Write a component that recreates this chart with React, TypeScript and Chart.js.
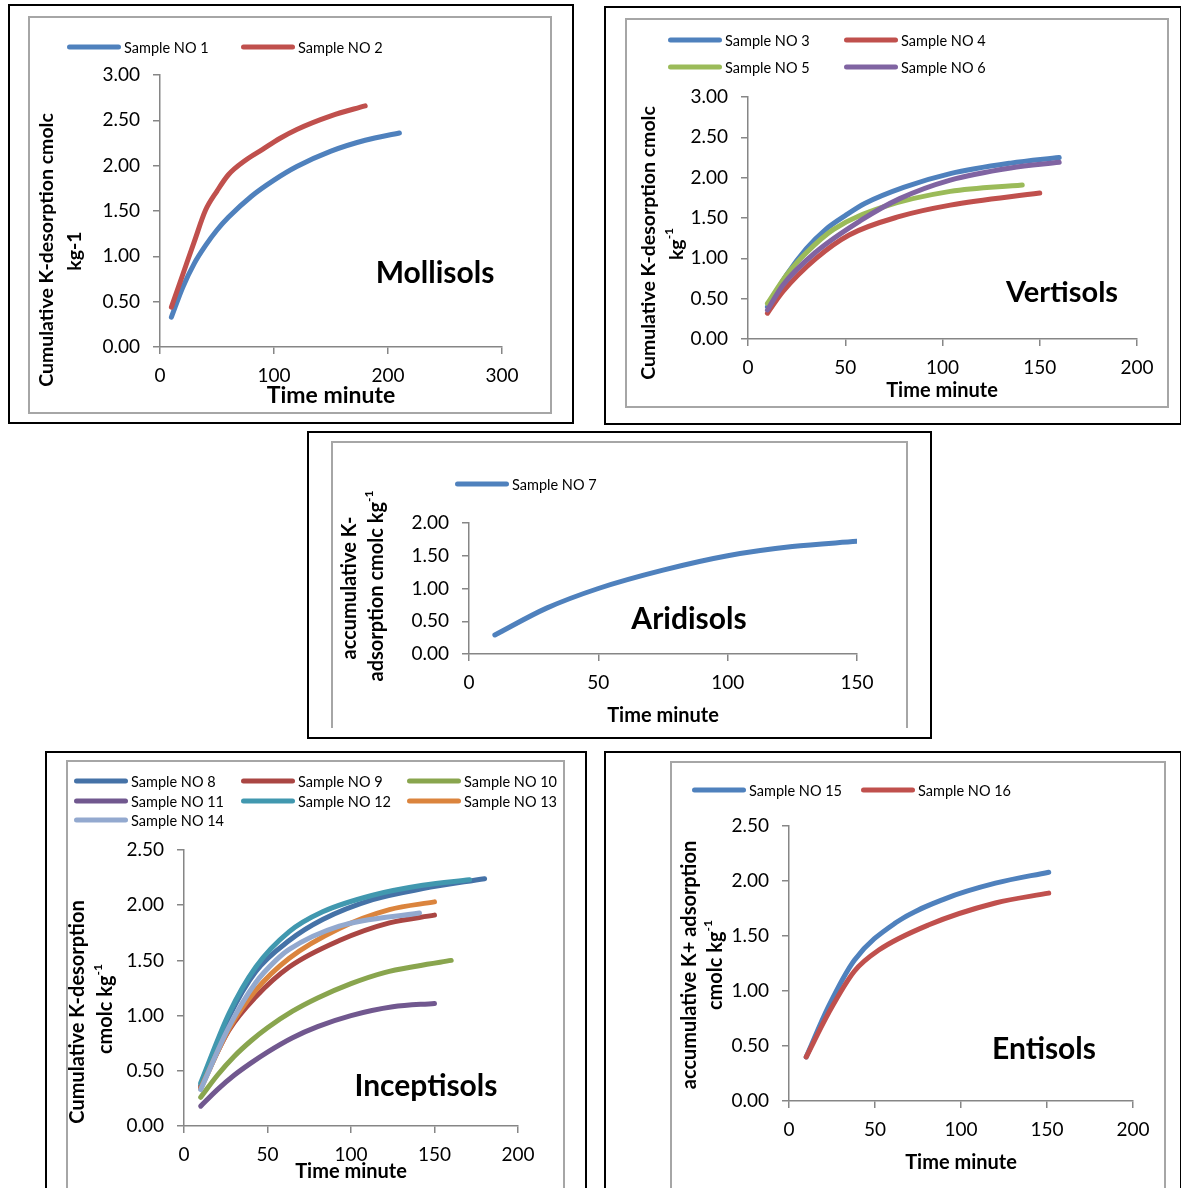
import React, { useEffect, useRef } from "react";
import { Chart, registerables } from "chart.js";

Chart.register(...registerables);

const PAGE_W = 1181;
const PAGE_H = 1188;
const FONT = "Lato, 'Open Sans', 'DejaVu Sans', sans-serif";

// ---------- Mollisols ----------
const molTimes1 = [10, 20, 30, 40, 50, 60, 80, 100, 120, 150, 180, 210];
const molSample1 = [0.33, 0.66, 0.92, 1.12, 1.29, 1.43, 1.66, 1.84, 1.99, 2.16, 2.28, 2.36];
const molTimes2 = [10, 20, 30, 40, 50, 60, 75, 90, 105, 120, 150, 180];
const molSample2 = [0.44, 0.8, 1.16, 1.51, 1.72, 1.9, 2.06, 2.18, 2.3, 2.4, 2.55, 2.66];

// ---------- Vertisols ----------
const verTimes3 = [10, 20, 30, 40, 50, 60, 80, 104, 135, 160];
const verSample3 = [0.4, 0.8, 1.12, 1.36, 1.53, 1.68, 1.88, 2.05, 2.18, 2.25];
const verTimes4 = [10, 18, 35, 52, 78, 104, 150];
const verSample4 = [0.32, 0.59, 1.0, 1.29, 1.52, 1.66, 1.81];
const verTimes5 = [10, 20, 30, 44, 70, 104, 141];
const verSample5 = [0.44, 0.8, 1.07, 1.36, 1.64, 1.83, 1.91];
const verTimes6 = [10, 18, 35, 58, 78, 104, 135, 160];
const verSample6 = [0.36, 0.67, 1.08, 1.47, 1.74, 1.97, 2.12, 2.19];

// ---------- Aridisols ----------
const ariTimes7 = [10, 30, 50, 75, 100, 125, 150];
const ariSample7 = [0.29, 0.7, 1.0, 1.28, 1.5, 1.64, 1.72];

// ---------- Inceptisols ----------
const incTimes8 = [10, 27, 43, 63, 83, 113, 143, 180];
const incSample8 = [0.37, 0.99, 1.4, 1.68, 1.87, 2.05, 2.15, 2.24];
const incTimes9 = [10, 27, 43, 63, 93, 123, 150];
const incSample9 = [0.35, 0.87, 1.17, 1.44, 1.68, 1.84, 1.91];
const incTimes10 = [10, 20, 30, 40, 50, 65, 80, 100, 120, 140, 160];
const incSample10 = [0.26, 0.46, 0.63, 0.77, 0.89, 1.04, 1.16, 1.29, 1.39, 1.45, 1.5];
const incTimes11 = [10, 20, 30, 40, 50, 65, 80, 100, 125, 150];
const incSample11 = [0.18, 0.33, 0.46, 0.57, 0.67, 0.8, 0.9, 1.0, 1.08, 1.11];
const incTimes12 = [10, 27, 43, 63, 83, 113, 143, 171];
const incSample12 = [0.39, 1.02, 1.44, 1.76, 1.94, 2.09, 2.18, 2.23];
const incTimes13 = [10, 27, 43, 63, 93, 123, 150];
const incSample13 = [0.34, 0.88, 1.23, 1.52, 1.79, 1.96, 2.03];
const incTimes14 = [10, 27, 43, 55, 63, 93, 141];
const incSample14 = [0.33, 0.9, 1.3, 1.5, 1.6, 1.81, 1.93];

// ---------- Entisols ----------
const entTimes15 = [10, 23, 38, 62, 91, 120, 151];
const entSample15 = [0.4, 0.86, 1.28, 1.62, 1.84, 1.98, 2.08];
const entTimes16 = [10, 23, 38, 52, 81, 120, 151];
const entSample16 = [0.4, 0.8, 1.18, 1.37, 1.6, 1.8, 1.89];

type Seg = { t: string; sup?: boolean };
type TextItem = {
  parts: Seg[];
  x: number;
  y: number;
  rot?: number;
  size: number;
  bold?: boolean;
  baseline?: CanvasTextBaseline;
};
type Series = { label: string; color: string; times: number[]; values: number[] };
type LegendPos = { x: number; y: number };

type PanelSpec = {
  series: Series[];
  left: number;
  right: number;
  top: number;
  bottom: number;
  xMax: number;
  xStep: number;
  yMax: number;
  legend: LegendPos[];
  texts: TextItem[];
};

const Y_AXIS_W = 70;
const X_AXIS_H = 40;
const AXIS_GRAY = "#868686";

const decorPlugin = {
  id: "panelDecor",
  afterDraw(chart: any) {
    const opts = chart.options.plugins.panelDecor;
    if (!opts) return;
    const ctx: CanvasRenderingContext2D = chart.ctx;
    const lineLen = 54;
    chart.data.datasets.forEach((ds: any, i: number) => {
      const p: LegendPos = opts.legend[i];
      if (!p) return;
      ctx.save();
      ctx.strokeStyle = ds.borderColor;
      ctx.lineWidth = 5;
      ctx.lineCap = "round";
      ctx.beginPath();
      ctx.moveTo(p.x + 2.5, p.y);
      ctx.lineTo(p.x + lineLen - 2.5, p.y);
      ctx.stroke();
      ctx.fillStyle = "#000";
      ctx.font = `14.5px ${FONT}`;
      ctx.textBaseline = "middle";
      ctx.textAlign = "left";
      ctx.fillText(ds.label, p.x + lineLen + 3, p.y + 1);
      ctx.restore();
    });
    opts.texts.forEach((it: TextItem) => {
      ctx.save();
      ctx.translate(it.x, it.y);
      ctx.rotate(((it.rot || 0) * Math.PI) / 180);
      ctx.textBaseline = it.baseline || "alphabetic";
      ctx.textAlign = "left";
      ctx.fillStyle = "#000";
      const weight = it.bold ? "bold " : "";
      const fontFor = (s: Seg) =>
        `${weight}${s.sup ? Math.round(it.size * 0.62) : it.size}px ${FONT}`;
      let total = 0;
      const widths = it.parts.map((s) => {
        ctx.font = fontFor(s);
        const w = ctx.measureText(s.t).width;
        total += w;
        return w;
      });
      let cx = -total / 2;
      it.parts.forEach((s, k) => {
        ctx.font = fontFor(s);
        ctx.fillText(s.t, cx, s.sup ? -it.size * 0.38 : 0);
        cx += widths[k];
      });
      ctx.restore();
    });
  },
};

function buildConfig(spec: PanelSpec): any {
  const tickFont = { family: FONT, size: 19 };
  const n = spec.series.length;
  const axisGrid = {
    display: true,
    drawOnChartArea: false,
    drawTicks: true,
    tickLength: 7,
    color: AXIS_GRAY,
    lineWidth: 1.5,
  };
  return {
    type: "line",
    data: {
      datasets: spec.series.map((s, i) => ({
        label: s.label,
        data: s.times.map((t, k) => ({ x: t, y: s.values[k] })),
        borderColor: s.color,
        backgroundColor: s.color,
        borderWidth: 5,
        pointRadius: 0,
        fill: false,
        cubicInterpolationMode: "monotone",
        borderCapStyle: "round",
        borderJoinStyle: "round",
        order: n - i,
      })),
    },
    options: {
      responsive: false,
      animation: false,
      events: [],
      layout: {
        padding: {
          left: spec.left - Y_AXIS_W,
          right: PAGE_W - spec.right,
          top: spec.top,
          bottom: PAGE_H - spec.bottom - X_AXIS_H,
        },
      },
      plugins: {
        legend: { display: false },
        tooltip: { enabled: false },
        title: { display: false },
        panelDecor: { legend: spec.legend, texts: spec.texts },
      },
      scales: {
        x: {
          type: "linear",
          min: 0,
          max: spec.xMax,
          ticks: {
            stepSize: spec.xStep,
            font: tickFont,
            color: "#000",
            padding: 10,
            maxRotation: 0,
            autoSkip: false,
          },
          grid: axisGrid,
          border: { display: true, color: AXIS_GRAY, width: 1.5 },
          afterFit: (s: any) => {
            s.height = X_AXIS_H;
          },
        },
        y: {
          type: "linear",
          min: 0,
          max: spec.yMax,
          ticks: {
            stepSize: 0.5,
            font: tickFont,
            color: "#000",
            padding: 13,
            callback: (v: any) => Number(v).toFixed(2),
          },
          grid: axisGrid,
          border: { display: true, color: AXIS_GRAY, width: 1.5 },
          afterFit: (s: any) => {
            s.width = Y_AXIS_W;
          },
        },
      },
    },
    plugins: [decorPlugin],
  };
}

const panels: PanelSpec[] = [
  {
    series: [
      { label: "Sample NO 1", color: "#4F81BD", times: molTimes1, values: molSample1 },
      { label: "Sample NO 2", color: "#C0504D", times: molTimes2, values: molSample2 },
    ],
    left: 160,
    right: 502,
    top: 75,
    bottom: 347,
    xMax: 300,
    xStep: 100,
    yMax: 3,
    legend: [
      { x: 67, y: 47 },
      { x: 241, y: 47 },
    ],
    texts: [
      { parts: [{ t: "Cumulative K-desorption cmolc" }], x: 47, y: 250, rot: -90, size: 19.5, bold: true, baseline: "middle" },
      { parts: [{ t: "kg-1" }], x: 75, y: 251, rot: -90, size: 19.5, bold: true, baseline: "middle" },
      { parts: [{ t: "Time minute" }], x: 331, y: 403, size: 23, bold: true },
      { parts: [{ t: "Mollisols" }], x: 435, y: 283, size: 30, bold: true },
    ],
  },
  {
    series: [
      { label: "Sample NO 3", color: "#4F81BD", times: verTimes3, values: verSample3 },
      { label: "Sample NO 4", color: "#C0504D", times: verTimes4, values: verSample4 },
      { label: "Sample NO 5", color: "#9BBB59", times: verTimes5, values: verSample5 },
      { label: "Sample NO 6", color: "#8064A2", times: verTimes6, values: verSample6 },
    ],
    left: 748,
    right: 1137,
    top: 97,
    bottom: 339,
    xMax: 200,
    xStep: 50,
    yMax: 3,
    legend: [
      { x: 668, y: 40 },
      { x: 844, y: 40 },
      { x: 668, y: 67 },
      { x: 844, y: 67 },
    ],
    texts: [
      { parts: [{ t: "Cumulative K-desorption cmolc" }], x: 649, y: 243, rot: -90, size: 19.5, bold: true, baseline: "middle" },
      { parts: [{ t: "kg" }, { t: "-1", sup: true }], x: 677, y: 244, rot: -90, size: 19.5, bold: true, baseline: "middle" },
      { parts: [{ t: "Time minute" }], x: 942, y: 397, size: 20, bold: true },
      { parts: [{ t: "Vertisols" }], x: 1062, y: 302, size: 29, bold: true },
    ],
  },
  {
    series: [{ label: "Sample NO 7", color: "#4F81BD", times: ariTimes7, values: ariSample7 }],
    left: 469,
    right: 857,
    top: 523,
    bottom: 654,
    xMax: 150,
    xStep: 50,
    yMax: 2,
    legend: [{ x: 455, y: 484 }],
    texts: [
      { parts: [{ t: "accumulative K-" }], x: 350, y: 588, rot: -90, size: 20, bold: true, baseline: "middle" },
      { parts: [{ t: "adsorption cmolc kg" }, { t: "-1", sup: true }], x: 377, y: 586, rot: -90, size: 20, bold: true, baseline: "middle" },
      { parts: [{ t: "Time minute" }], x: 663, y: 722, size: 20, bold: true },
      { parts: [{ t: "Aridisols" }], x: 689, y: 629, size: 30, bold: true },
    ],
  },
  {
    series: [
      { label: "Sample NO 8", color: "#4572A7", times: incTimes8, values: incSample8 },
      { label: "Sample NO 9", color: "#AA4643", times: incTimes9, values: incSample9 },
      { label: "Sample NO 10", color: "#89A54E", times: incTimes10, values: incSample10 },
      { label: "Sample NO 11", color: "#71588F", times: incTimes11, values: incSample11 },
      { label: "Sample NO 12", color: "#4198AF", times: incTimes12, values: incSample12 },
      { label: "Sample NO 13", color: "#DB843D", times: incTimes13, values: incSample13 },
      { label: "Sample NO 14", color: "#93A9CF", times: incTimes14, values: incSample14 },
    ],
    left: 184,
    right: 518,
    top: 850,
    bottom: 1126,
    xMax: 200,
    xStep: 50,
    yMax: 2.5,
    legend: [
      { x: 74, y: 781 },
      { x: 241, y: 781 },
      { x: 407, y: 781 },
      { x: 74, y: 801 },
      { x: 241, y: 801 },
      { x: 407, y: 801 },
      { x: 74, y: 820 },
    ],
    texts: [
      { parts: [{ t: "Cumulative K-desorption" }], x: 78, y: 1012, rot: -90, size: 20, bold: true, baseline: "middle" },
      { parts: [{ t: "cmolc kg" }, { t: "-1", sup: true }], x: 106, y: 1009, rot: -90, size: 20, bold: true, baseline: "middle" },
      { parts: [{ t: "Time minute" }], x: 351, y: 1178, size: 20, bold: true },
      { parts: [{ t: "Inceptisols" }], x: 426, y: 1096, size: 30, bold: true },
    ],
  },
  {
    series: [
      { label: "Sample NO 15", color: "#4F81BD", times: entTimes15, values: entSample15 },
      { label: "Sample NO 16", color: "#C0504D", times: entTimes16, values: entSample16 },
    ],
    left: 789,
    right: 1133,
    top: 826,
    bottom: 1101,
    xMax: 200,
    xStep: 50,
    yMax: 2.5,
    legend: [
      { x: 692, y: 790 },
      { x: 861, y: 790 },
    ],
    texts: [
      { parts: [{ t: "accumulative K+ adsorption" }], x: 690, y: 965, rot: -90, size: 20, bold: true, baseline: "middle" },
      { parts: [{ t: "cmolc kg" }, { t: "-1", sup: true }], x: 716, y: 965, rot: -90, size: 20, bold: true, baseline: "middle" },
      { parts: [{ t: "Time minute" }], x: 961, y: 1169, size: 20, bold: true },
      { parts: [{ t: "Entisols" }], x: 1044, y: 1059, size: 30, bold: true },
    ],
  },
];

type Frame = { l: number; t: number; r: number; b: number; color: string; w: number; noBottom?: boolean };

const frames: Frame[] = [
  { l: 8, t: 4, r: 574, b: 424, color: "#000", w: 2 },
  { l: 604, t: 6, r: 1182, b: 425, color: "#000", w: 2 },
  { l: 307, t: 431, r: 932, b: 739, color: "#000", w: 2 },
  { l: 45, t: 751, r: 587, b: 1200, color: "#000", w: 2 },
  { l: 604, t: 751, r: 1182, b: 1200, color: "#000", w: 2 },
  { l: 28, t: 16, r: 552, b: 414, color: "#A6A6A6", w: 2 },
  { l: 625, t: 18, r: 1169, b: 408, color: "#A6A6A6", w: 2 },
  { l: 331, t: 441, r: 908, b: 728, color: "#A6A6A6", w: 2, noBottom: true },
  { l: 66, t: 760, r: 565, b: 1200, color: "#A6A6A6", w: 2 },
  { l: 670, t: 761, r: 1166, b: 1200, color: "#A6A6A6", w: 2 },
];

function Panel({ spec }: { spec: PanelSpec }) {
  const ref = useRef<HTMLCanvasElement | null>(null);
  useEffect(() => {
    if (!ref.current) return;
    const chart = new Chart(ref.current, buildConfig(spec));
    return () => chart.destroy();
  }, [spec]);
  return (
    <canvas
      ref={ref}
      width={PAGE_W}
      height={PAGE_H}
      style={{ position: "absolute", left: 0, top: 0, width: PAGE_W, height: PAGE_H }}
    />
  );
}

export default function App() {
  return (
    <div
      style={{
        position: "absolute",
        left: 0,
        top: 0,
        width: PAGE_W,
        height: PAGE_H,
        background: "#fff",
        overflow: "hidden",
      }}
    >
      {frames.map((f, i) => (
        <div
          key={i}
          style={{
            position: "absolute",
            left: f.l,
            top: f.t,
            width: f.r - f.l,
            height: f.b - f.t,
            boxSizing: "border-box",
            border: `${f.w}px solid ${f.color}`,
            borderBottom: f.noBottom ? "none" : `${f.w}px solid ${f.color}`,
          }}
        />
      ))}
      {panels.map((p, i) => (
        <Panel key={i} spec={p} />
      ))}
    </div>
  );
}
